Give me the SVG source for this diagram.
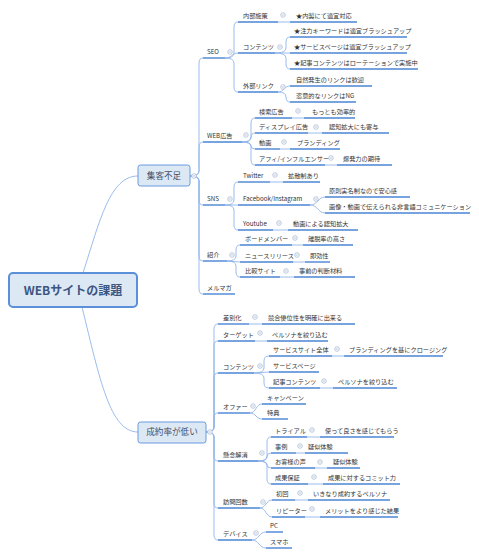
<svg xmlns="http://www.w3.org/2000/svg" xmlns:xlink="http://www.w3.org/1999/xlink" width="479" height="557" viewBox="0 0 479 557">
<style>
.t{font-family:"Noto Sans CJK JP","Noto Sans",sans-serif;font-size:6.2px;fill:#333}
.ul{stroke:#4a84d4;stroke-width:1.4;fill:none}
.c{stroke:#8fb4ea;stroke-width:0.9;fill:none}
.box{fill:#dde8f5;stroke:#6a9be0;stroke-width:1}
.bt{font-family:"Noto Sans CJK JP",sans-serif;font-size:8.6px;fill:#3d4f6a;text-anchor:middle}
</style>
<defs>
<g id="btn"><circle r="2.3" fill="#fff" stroke="#9fb3cf" stroke-width="0.7"/><line x1="-1.3" x2="1.3" y1="0" y2="0" stroke="#9fb3cf" stroke-width="0.7"/></g>
</defs>
<rect width="479" height="557" fill="#fff"/>
<g id="connectors">
<path class="c" d="M83,273 C100,220 110,176 138,176"/>
<path class="c" d="M82,307 C100,380 110,432 138,432"/>
<path class="c" d="M190,176 Q199,176 199,171 L199,63 Q199,58 203,58"/>
<path class="c" d="M190,176 Q199,176 199,171 L199,147 Q199,142 203,142"/>
<path class="c" d="M190,176 Q199,176 199,181 L199,200 Q199,205 203,205"/>
<path class="c" d="M190,176 Q199,176 199,181 L199,256 Q199,261 203,261"/>
<path class="c" d="M190,176 Q199,176 199,181 L199,289 Q199,294 203,294"/>
<path class="c" d="M225,58 Q234,58 234,53 L234,27 Q234,22 238,22"/>
<path class="c" d="M225,58 C232,58 232,53 238,53"/>
<path class="c" d="M225,58 Q234,58 234,63 L234,87 Q234,92 238,92"/>
<path class="c" d="M278,22 L290,22"/>
<path class="c" d="M275,53 Q286,53 286,48 L286,42 Q286,37 290,37"/>
<path class="c" d="M275,53 L290,53"/>
<path class="c" d="M275,53 Q286,53 286,58 L286,64 Q286,69 290,69"/>
<path class="c" d="M278,92 C284,92 284,86 290,86"/>
<path class="c" d="M278,92 Q286,92 286,97 Q286,102 290,102"/>
<path class="c" d="M242,142 Q251,142 251,137 L251,123 Q251,118 255,118"/>
<path class="c" d="M242,142 Q251,142 251,137.5 Q251,133 255,133"/>
<path class="c" d="M242,142 Q251,142 251,145.5 Q251,149 255,149"/>
<path class="c" d="M242,142 Q251,142 251,147 L251,160 Q251,165 255,165"/>
<path class="c" d="M292,118 L304,118"/>
<path class="c" d="M308,133 L322,133"/>
<path class="c" d="M280,149 L290,149"/>
<path class="c" d="M325,165 L337,165"/>
<path class="c" d="M225,205 Q234,205 234,200 L234,187 Q234,182 238,182"/>
<path class="c" d="M225,205 L238,205"/>
<path class="c" d="M225,205 Q234,205 234,210 L234,225 Q234,230 238,230"/>
<path class="c" d="M270,182 L283,182"/>
<path class="c" d="M310,205 C318,205 318,197 325,197"/>
<path class="c" d="M310,205 C318,205 318,213 325,213"/>
<path class="c" d="M273,230 L288,230"/>
<path class="c" d="M227,261 Q236,261 236,256 L236,250 Q236,245 240,245"/>
<path class="c" d="M227,261 L240,262"/>
<path class="c" d="M227,261 Q236,261 236,266 L236,272 Q236,277 240,277"/>
<path class="c" d="M292,245 L303,245"/>
<path class="c" d="M293,262 L305,262"/>
<path class="c" d="M280,277 L294,277"/>
<path class="c" d="M206,432 Q214,432 214,427 L214,329 Q214,324 218,324"/>
<path class="c" d="M206,432 Q214,432 214,427 L214,346 Q214,341 218,341"/>
<path class="c" d="M206,432 Q214,432 214,427 L214,378 Q214,373 218,373"/>
<path class="c" d="M206,432 Q214,432 214,427 L214,418 Q214,413 218,413"/>
<path class="c" d="M206,432 Q214,432 214,437 L214,456 Q214,461 218,461"/>
<path class="c" d="M206,432 Q214,432 214,437 L214,503 Q214,508 218,508"/>
<path class="c" d="M206,432 Q214,432 214,437 L214,535 Q214,540 218,540"/>
<path class="c" d="M249,324 L262,324"/>
<path class="c" d="M255,341 L267,341"/>
<path class="c" d="M254,373 Q264,373 264,368 L264,361 Q264,356 269,356"/>
<path class="c" d="M254,373 L269,372"/>
<path class="c" d="M254,373 Q264,373 264,378 L264,383 Q264,388 269,388"/>
<path class="c" d="M332,356 L344,356"/>
<path class="c" d="M320,388 L333,388"/>
<path class="c" d="M250,413 C256,413 256,404 262,404"/>
<path class="c" d="M250,413 C256,413 256,419 262,419"/>
<path class="c" d="M258,461 Q267,461 267,456 L267,442 Q267,437 271,437"/>
<path class="c" d="M258,461 Q267,461 267,457 Q267,453 271,453"/>
<path class="c" d="M258,461 Q267,461 267,464.5 Q267,468 271,468"/>
<path class="c" d="M258,461 Q267,461 267,466 L267,479 Q267,484 271,484"/>
<path class="c" d="M307,437 L320,437"/>
<path class="c" d="M296,453 L305,453"/>
<path class="c" d="M315,468 L327,468"/>
<path class="c" d="M308,484 L323,484"/>
<path class="c" d="M260,508 C266,508 266,500 272,500"/>
<path class="c" d="M260,508 C266,508 266,517 272,517"/>
<path class="c" d="M295,500 L308,500"/>
<path class="c" d="M305,517 L320,517"/>
<path class="c" d="M252,540 C259,540 259,532 266,532"/>
<path class="c" d="M252,540 C259,540 259,548 266,548"/>
</g>
<g id="root"><rect x="9" y="273" width="128" height="34" rx="4" fill="#dde8f5" stroke="#5b8fd9" stroke-width="2"/><text x="73" y="294.5" font-family="Noto Sans CJK JP, sans-serif" font-size="12" font-weight="bold" fill="#3b5680" text-anchor="middle">WEBサイトの課題</text></g>
<g id="shukyaku"><rect class="box" x="138" y="165" width="52" height="21" rx="2.5"/><text class="bt" x="164" y="179">集客不足</text><use href="#btn" x="194" y="176"/></g>
<g id="seiyaku"><rect class="box" x="138" y="422" width="68" height="21" rx="2.5"/><text class="bt" x="172" y="435.2">成約率が低い</text><use href="#btn" x="210" y="432"/></g>

<g id="seo"><text class="t" x="207" y="54">SEO</text><path class="ul" d="M203,58 H225"/><use href="#btn" x="230" y="52"/></g>
<g id="naibu"><text class="t" x="243" y="18">内部施策</text><path class="ul" d="M238,22 H278"/><use href="#btn" x="283" y="15"/></g>
<g id="naibu1"><text class="t" x="296" y="18">★内製にて適宜対応</text><path class="ul" d="M290,22 H357"/></g>
<g id="contents1"><text class="t" x="243" y="49">コンテンツ</text><path class="ul" d="M238,53 H275"/><use href="#btn" x="280" y="47"/></g>
<g id="c1a"><text class="t" x="294" y="33">★注力キーワードは適宜ブラッシュアップ</text><path class="ul" d="M290,37 H407"/></g>
<g id="c1b"><text class="t" x="294" y="49">★サービスページは適宜ブラッシュアップ</text><path class="ul" d="M290,53 H407"/></g>
<g id="c1c"><text class="t" x="294" y="65">★記事コンテンツはローテーションで実施中</text><path class="ul" d="M290,69 H418"/></g>
<g id="gaibu"><text class="t" x="243" y="88">外部リンク</text><path class="ul" d="M238,92 H278"/><use href="#btn" x="283" y="87"/></g>
<g id="g1"><text class="t" x="296" y="82">自然発生のリンクは歓迎</text><path class="ul" d="M290,86 H372"/></g>
<g id="g2"><text class="t" x="296" y="98">恣意的なリンクはNG</text><path class="ul" d="M290,102 H356"/></g>

<g id="webad"><text class="t" x="207" y="138">WEB広告</text><path class="ul" d="M203,142 H242"/><use href="#btn" x="246" y="135"/></g>
<g id="kensaku"><text class="t" x="259" y="114">検索広告</text><path class="ul" d="M255,118 H292"/><use href="#btn" x="298" y="111"/></g>
<g id="kensaku1"><text class="t" x="312" y="114">もっとも効率的</text><path class="ul" d="M304,118 H355"/></g>
<g id="display"><text class="t" x="259" y="129">ディスプレイ広告</text><path class="ul" d="M255,133 H308"/><use href="#btn" x="316" y="127"/></g>
<g id="display1"><text class="t" x="329" y="129">認知拡大にも寄与</text><path class="ul" d="M322,133 H389"/></g>
<g id="douga"><text class="t" x="259" y="145">動画</text><path class="ul" d="M255,149 H280"/><use href="#btn" x="284" y="142"/></g>
<g id="douga1"><text class="t" x="297" y="145">ブランディング</text><path class="ul" d="M290,149 H340"/></g>
<g id="affi"><text class="t" x="259" y="161">アフィ/インフルエンサー</text><path class="ul" d="M255,165 H325"/><use href="#btn" x="331" y="158"/></g>
<g id="affi1"><text class="t" x="343" y="161">爆発力の期待</text><path class="ul" d="M337,165 H392"/></g>

<g id="sns"><text class="t" x="207" y="201">SNS</text><path class="ul" d="M203,205 H225"/><use href="#btn" x="230" y="199"/></g>
<g id="twitter"><text class="t" x="243" y="178">Twitter</text><path class="ul" d="M238,182 H270"/><use href="#btn" x="275" y="175"/></g>
<g id="twitter1"><text class="t" x="288" y="178">拡散制あり</text><path class="ul" d="M283,182 H320"/></g>
<g id="fb"><text class="t" x="243" y="201">Facebook/Instagram</text><path class="ul" d="M238,205 H310"/><use href="#btn" x="316" y="199"/></g>
<g id="fb1"><text class="t" x="329" y="193">原則実名制なので安心感</text><path class="ul" d="M325,197 H410"/></g>
<g id="fb2"><text class="t" x="329" y="209">画像・動画で伝えられる非言語コミュニケーション</text><path class="ul" d="M325,213 H470"/></g>
<g id="youtube"><text class="t" x="243" y="226">Youtube</text><path class="ul" d="M238,230 H273"/><use href="#btn" x="279" y="223"/></g>
<g id="youtube1"><text class="t" x="293" y="226">動画による認知拡大</text><path class="ul" d="M288,230 H358"/></g>

<g id="shoukai"><text class="t" x="207" y="257">紹介</text><path class="ul" d="M203,261 H227"/><use href="#btn" x="232" y="255"/></g>
<g id="board"><text class="t" x="245" y="241">ボードメンバー</text><path class="ul" d="M240,245 H292"/><use href="#btn" x="295" y="238"/></g>
<g id="board1"><text class="t" x="308" y="241">離脱率の高さ</text><path class="ul" d="M303,245 H353"/></g>
<g id="news"><text class="t" x="245" y="258">ニュースリリース</text><path class="ul" d="M240,262 H293"/><use href="#btn" x="297" y="255"/></g>
<g id="news1"><text class="t" x="310" y="258">即効性</text><path class="ul" d="M305,262 H330"/></g>
<g id="hikaku"><text class="t" x="245" y="273">比較サイト</text><path class="ul" d="M240,277 H280"/><use href="#btn" x="286" y="271"/></g>
<g id="hikaku1"><text class="t" x="299" y="273">事前の判断材料</text><path class="ul" d="M294,277 H355"/></g>
<g id="mailmag"><text class="t" x="207" y="290">メルマガ</text><path class="ul" d="M203,294 H235"/></g>

<g id="sabetsu"><text class="t" x="223" y="320">差別化</text><path class="ul" d="M218,324 H249"/><use href="#btn" x="255" y="317"/></g>
<g id="sabetsu1"><text class="t" x="268" y="320">競合優位性を明確に出来る</text><path class="ul" d="M262,324 H355"/></g>
<g id="target"><text class="t" x="223" y="337">ターゲット</text><path class="ul" d="M218,341 H255"/><use href="#btn" x="260" y="333"/></g>
<g id="target1"><text class="t" x="272" y="337">ペルソナを絞り込む</text><path class="ul" d="M267,341 H328"/></g>
<g id="contents2"><text class="t" x="223" y="369">コンテンツ</text><path class="ul" d="M218,373 H254"/><use href="#btn" x="260" y="366"/></g>
<g id="site"><text class="t" x="273" y="352">サービスサイト全体</text><path class="ul" d="M269,356 H332"/><use href="#btn" x="337" y="349"/></g>
<g id="site1"><text class="t" x="349" y="352">ブランディングを基にクロージング</text><path class="ul" d="M344,356 H443"/></g>
<g id="spage"><text class="t" x="273" y="368">サービスページ</text><path class="ul" d="M269,372 H319"/></g>
<g id="kiji"><text class="t" x="273" y="384">記事コンテンツ</text><path class="ul" d="M269,388 H320"/><use href="#btn" x="324" y="381"/></g>
<g id="kiji1"><text class="t" x="338" y="384">ペルソナを絞り込む</text><path class="ul" d="M333,388 H397"/></g>
<g id="offer"><text class="t" x="223" y="409">オファー</text><path class="ul" d="M218,413 H250"/><use href="#btn" x="253" y="406"/></g>
<g id="campaign"><text class="t" x="267" y="400">キャンペーン</text><path class="ul" d="M262,404 H306"/></g>
<g id="tokuten"><text class="t" x="267" y="415">特典</text><path class="ul" d="M262,419 H288"/></g>
<g id="kenen"><text class="t" x="223" y="457">懸念解消</text><path class="ul" d="M218,461 H258"/><use href="#btn" x="262" y="453"/></g>
<g id="trial"><text class="t" x="275" y="433">トライアル</text><path class="ul" d="M271,437 H307"/><use href="#btn" x="312" y="430"/></g>
<g id="trial1"><text class="t" x="325" y="433">使って良さを感じてもらう</text><path class="ul" d="M320,437 H394"/></g>
<g id="jirei"><text class="t" x="275" y="449">事例</text><path class="ul" d="M271,453 H296"/><use href="#btn" x="300" y="446"/></g>
<g id="jirei1"><text class="t" x="308" y="449">疑似体験</text><path class="ul" d="M305,453 H348"/></g>
<g id="koe"><text class="t" x="275" y="464">お客様の声</text><path class="ul" d="M271,468 H315"/><use href="#btn" x="320" y="462"/></g>
<g id="koe1"><text class="t" x="333" y="464">疑似体験</text><path class="ul" d="M327,468 H360"/></g>
<g id="hosho"><text class="t" x="275" y="480">成果保証</text><path class="ul" d="M271,484 H308"/><use href="#btn" x="314" y="477"/></g>
<g id="hosho1"><text class="t" x="328" y="480">成果に対するコミット力</text><path class="ul" d="M323,484 H400"/></g>
<g id="houmon"><text class="t" x="223" y="504">訪問回数</text><path class="ul" d="M218,508 H260"/><use href="#btn" x="263" y="502"/></g>
<g id="shokai"><text class="t" x="276" y="496">初回</text><path class="ul" d="M272,500 H295"/><use href="#btn" x="300" y="493"/></g>
<g id="shokai1"><text class="t" x="313" y="496">いきなり成約するペルソナ</text><path class="ul" d="M308,500 H390"/></g>
<g id="repeat"><text class="t" x="276" y="513">リピーター</text><path class="ul" d="M272,517 H305"/><use href="#btn" x="312" y="509"/></g>
<g id="repeat1"><text class="t" x="325" y="513">メリットをより感じた結果</text><path class="ul" d="M320,517 H398"/></g>
<g id="device"><text class="t" x="223" y="536">デバイス</text><path class="ul" d="M218,540 H252"/><use href="#btn" x="256" y="533"/></g>
<g id="pc"><text class="t" x="270" y="528">PC</text><path class="ul" d="M266,532 H283"/></g>
<g id="sp"><text class="t" x="270" y="544">スマホ</text><path class="ul" d="M266,548 H292"/></g>
</svg>
